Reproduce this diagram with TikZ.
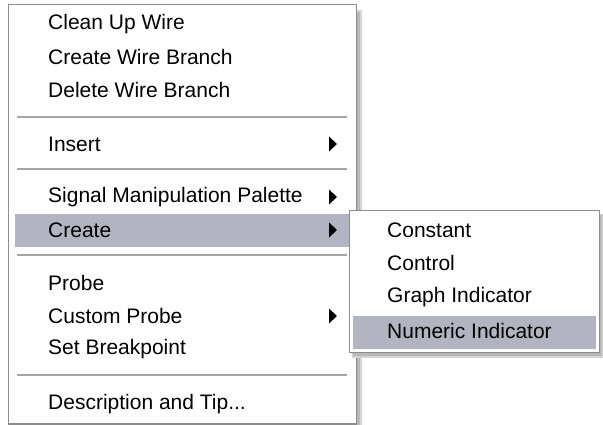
\documentclass[tikz,border=0pt]{standalone}
\usepackage{fontspec}
\setmainfont{Liberation Sans}
\definecolor{hl}{RGB}{178,180,193}
\definecolor{bord}{RGB}{140,140,140}
\definecolor{sep}{RGB}{165,165,165}
\definecolor{shd}{RGB}{185,185,185}
\begin{document}
\begin{tikzpicture}[x=1pt,y=-1pt,
  item/.style={anchor=west,inner sep=0pt,font=\fontsize{21}{25}\selectfont},
  tri/.style={fill=black},
  seprule/.style={draw=sep,line width=1.2pt}]
\useasboundingbox[fill=white] (0,0) rectangle (603,425);
% main menu shadow
\fill[shd!60] (357,10) rectangle (362,425);
\fill[shd] (357,12) rectangle (360,425);
% main menu
\draw[bord,line width=1.4pt,fill=white] (8.5,4.5) rectangle (356.5,424);
\fill[hl] (15,214) rectangle (350,247);
\draw[seprule] (17,117) -- (347,117);
\draw[seprule] (17,169) -- (347,169);
\draw[seprule] (17,255) -- (347,255);
\draw[seprule] (17,375) -- (347,375);
\node[item] (m1) at (48,24) {Clean Up Wire};
\node[item] (m2) at (48,57) {Create Wire Branch};
\node[item] (m3) at (48,90) {Delete Wire Branch};
\node[item] (m4) at (48,144) {Insert};
\node[item] (m5) at (48,197) {Signal Manipulation Palette};
\node[item] (m6) at (48,230) {Create};
\node[item] (m7) at (48,283) {Probe};
\node[item] (m8) at (48,316) {Custom Probe};
\node[item] (m9) at (48,349) {Set Breakpoint};
\node[item] (m10) at (48,404) {Description and Tip...};
\foreach \yy in {144,197,230,316}{
  \fill[tri] (329,\yy-7.5) -- (337,\yy) -- (329,\yy+7.5) -- cycle;
}
% submenu shadow
\fill[shd!60] (352,353) rectangle (603,358);
\fill[shd!60] (600,214) rectangle (603,358);
\fill[shd] (353,353) rectangle (601,356);
\fill[shd] (600,215) rectangle (602,356);
% submenu
\draw[bord,line width=1.4pt,fill=white] (349.5,210.5) rectangle (599.5,352.5);
\fill[hl] (353,316) rectangle (596,349);
\node[item] (s1) at (387,230) {Constant};
\node[item] (s2) at (387,263) {Control};
\node[item] (s3) at (387,297) {Graph Indicator};
\node[item] (s4) at (387,331) {Numeric Indicator};
\end{tikzpicture}
\end{document}
